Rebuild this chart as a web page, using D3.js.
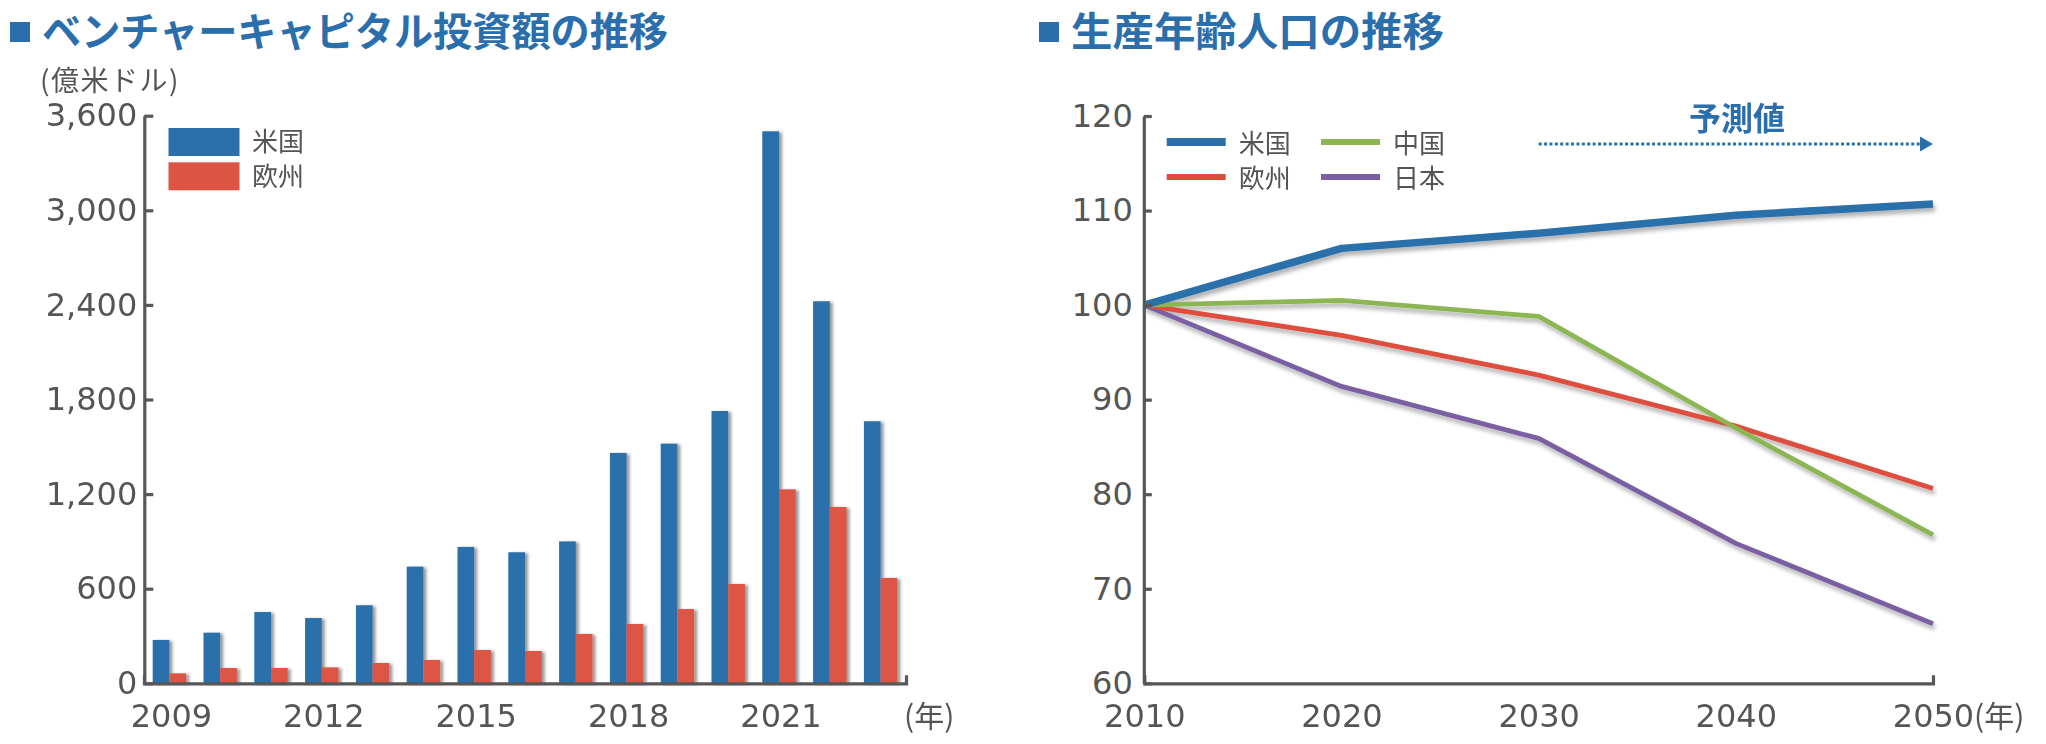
<!DOCTYPE html>
<html>
<head>
<meta charset="utf-8">
<script src="https://cdn.jsdelivr.net/npm/d3@7"></script>
<style>
  html, body { margin: 0; padding: 0; background: #fff; }
  svg { display: block; }
</style>
</head>
<body>
<svg id="chart" width="2046" height="744"></svg>
<script>
// ---------- Data: left chart (venture capital investment, 億米ドル) ----------
const vcYears = ["2009","2010","2011","2012","2013","2014","2015","2016","2017","2018","2019","2020","2021","2022","2023"];
const vcUS = [275, 321, 452, 414, 495, 740, 865, 831, 900, 1461, 1520, 1727, 3501, 2423, 1662];
const vcEU = [63, 97, 97, 101, 129, 148, 211, 205, 313, 376, 471, 630, 1230, 1118, 668];
const vcTicks = [0, 600, 1200, 1800, 2400, 3000, 3600];
const vcLabelYears = ["2009", "2012", "2015", "2018", "2021"];
const vcSeriesNames = ["米国", "欧州"];

// ---------- Data: right chart (working-age population index) ----------
const popYears = [2010, 2020, 2030, 2040, 2050];
const popUS = [100, 106.0, 107.6, 109.5, 110.7];
const popCN = [100, 100.5, 98.8, 87.0, 75.7];
const popEU = [100, 96.8, 92.6, 87.2, 80.6];
const popJP = [100, 91.4, 85.9, 74.8, 66.3];
const popTicks = [60, 70, 80, 90, 100, 110, 120];
const popSeriesNames = ["米国", "中国", "欧州", "日本"];

// ---------- Styles ----------
const BLUE = "#2b70ab", RED = "#dc5444", GREEN = "#8cb553", PURPLE = "#7a60a2", LRED = "#de4d3c";
const TITLE_BLUE = "#2b6eac";
const AXIS = "#575757", TEXT = "#555555";
const NUMFONT = "'DejaVu Sans', sans-serif";
const JPFONT = "'Noto Sans CJK JP', sans-serif";

const svg = d3.select("#chart");
const defs = svg.append("defs");
const fBar = defs.append("filter").attr("id", "barShadow").attr("x", "-20%").attr("y", "-5%").attr("width", "160%").attr("height", "110%");
fBar.append("feDropShadow").attr("dx", 3).attr("dy", 1).attr("stdDeviation", 1.6).attr("flood-color", "#000").attr("flood-opacity", 0.4);
const fLine = defs.append("filter").attr("id", "lineShadow").attr("x", "-5%").attr("y", "-10%").attr("width", "110%").attr("height", "130%");
fLine.append("feDropShadow").attr("dx", 2).attr("dy", 4).attr("stdDeviation", 2).attr("flood-color", "#000").attr("flood-opacity", 0.3);

// ---------- Titles ----------
function title(x, text, len) {
  svg.append("rect").attr("x", x).attr("y", 22).attr("width", 20).attr("height", 20).attr("fill", TITLE_BLUE);
  svg.append("text").attr("x", x + 32).attr("y", 46)
    .attr("font-family", JPFONT).attr("font-weight", 700).attr("font-size", 40)
    .attr("fill", TITLE_BLUE).attr("textLength", len).attr("lengthAdjust", "spacingAndGlyphs")
    .text(text);
}
title(10, "ベンチャーキャピタル投資額の推移", 626);
title(1039, "生産年齢人口の推移", 373);

// ================= LEFT CHART =================
const x0 = d3.scaleBand().domain(vcYears).range([144, 906]).paddingInner(0.342).paddingOuter(0.171);
const x1 = d3.scaleBand().domain(vcSeriesNames).range([0, x0.bandwidth()]);
const yL = d3.scaleLinear().domain([0, 3600]).range([683.3, 115.7]);
const colorL = d3.scaleOrdinal().domain(vcSeriesNames).range([BLUE, RED]);

const barData = vcYears.map((y, i) => ({ year: y, vals: [{ k: "米国", v: vcUS[i] }, { k: "欧州", v: vcEU[i] }] }));
const bars = svg.append("g").attr("filter", "url(#barShadow)");
bars.selectAll("g").data(barData).join("g")
  .attr("transform", d => `translate(${x0(d.year)},0)`)
  .selectAll("rect").data(d => d.vals).join("rect")
  .attr("x", d => x1(d.k)).attr("width", x1.bandwidth())
  .attr("y", d => yL(d.v)).attr("height", d => yL(0) - yL(d.v))
  .attr("fill", d => colorL(d.k));

// y axis
const yAxisL = svg.append("g").attr("transform", "translate(144.3,0)")
  .call(d3.axisLeft(yL).tickValues(vcTicks).tickFormat(d3.format(",")).tickSize(-9).tickSizeOuter(0).tickPadding(7));
// x axis
const xAxisL = svg.append("g").attr("transform", "translate(0,683.3)")
  .call(d3.axisBottom(x0).tickValues(vcLabelYears).tickSize(0).tickSizeOuter(-8).tickPadding(21));
xAxisL.selectAll(".tick").attr("transform", d => `translate(${x0(d) + x0.bandwidth() / 2 + 2},0)`);

// legend left
const legL = svg.append("g");
vcSeriesNames.forEach((n, i) => {
  legL.append("rect").attr("x", 168.5).attr("y", 128 + i * 34.3).attr("width", 71).attr("height", 28).attr("fill", colorL(n));
  legL.append("text").attr("x", 252).attr("y", 142 + i * 34.3).attr("dy", "0.36em")
    .attr("font-family", JPFONT).attr("font-size", 26).attr("fill", TEXT).text(n);
});
// unit labels
svg.append("text").attr("x", 40).attr("y", 81).attr("dy", "0.36em").attr("font-family", JPFONT)
  .attr("font-size", 28).attr("letter-spacing", 1.5).attr("fill", TEXT).text("(億米ドル)");
svg.append("text").attr("x", 904).attr("y", 716).attr("dy", "0.36em").attr("font-family", JPFONT)
  .attr("font-size", 30).attr("fill", TEXT).text("(年)");

// ================= RIGHT CHART =================
const xR = d3.scaleLinear().domain([2010, 2050]).range([1144.3, 1933]);
const yR = d3.scaleLinear().domain([60, 120]).range([683.3, 116]);

const popSeries = [
  { name: "米国", vals: popUS, color: BLUE, w: 7.5 },
  { name: "中国", vals: popCN, color: GREEN, w: 4.8 },
  { name: "欧州", vals: popEU, color: LRED, w: 4.8 },
  { name: "日本", vals: popJP, color: PURPLE, w: 4.8 }
];
const line = d3.line().x((d, i) => xR(popYears[i])).y(d => yR(d));
const linesG = svg.append("g").attr("filter", "url(#lineShadow)");
// draw order: US last on top
[popSeries[3], popSeries[2], popSeries[1], popSeries[0]].forEach(s => {
  linesG.append("path").attr("d", line(s.vals)).attr("fill", "none")
    .attr("stroke", s.color).attr("stroke-width", s.w).attr("stroke-linejoin", "round").attr("stroke-linecap", "butt");
});

const yAxisR = svg.append("g").attr("transform", "translate(1143.8,0)")
  .call(d3.axisLeft(yR).tickValues(popTicks).tickFormat(d3.format("d")).tickSize(-8).tickSizeOuter(0).tickPadding(11));
const xAxisR = svg.append("g").attr("transform", "translate(0,683.3)")
  .call(d3.axisBottom(xR).tickValues(popYears).tickFormat(d3.format("d")).tickSize(0).tickSizeOuter(-8).tickPadding(21));
svg.append("text").attr("x", xR(2050) + 41).attr("y", 716).attr("dy", "0.36em").attr("font-family", JPFONT)
  .attr("font-size", 30).attr("fill", TEXT).text("(年)");

// legend right
const legPos = [{ x: 1166.7, y: 142 }, { x: 1321, y: 142 }, { x: 1166.7, y: 177 }, { x: 1321, y: 177 }];
popSeries.forEach((s, i) => {
  const p = legPos[i];
  svg.append("line").attr("x1", p.x).attr("x2", p.x + 59).attr("y1", p.y).attr("y2", p.y)
    .attr("stroke", s.color).attr("stroke-width", i === 0 ? 8 : 6);
  svg.append("text").attr("x", p.x + 72).attr("y", p.y + 2).attr("dy", "0.36em")
    .attr("font-family", JPFONT).attr("font-size", 26).attr("fill", TEXT).text(s.name);
});

// forecast annotation
svg.append("text").attr("x", 1737).attr("y", 118).attr("dy", "0.36em").attr("text-anchor", "middle")
  .attr("font-family", JPFONT).attr("font-weight", 700).attr("font-size", 32).attr("fill", TITLE_BLUE).text("予測値");
svg.append("line").attr("x1", xR(2030)).attr("x2", 1921).attr("y1", 144).attr("y2", 144)
  .attr("stroke", TITLE_BLUE).attr("stroke-width", 3.2).attr("stroke-dasharray", "3,2.4");
svg.append("path").attr("d", `M1920,136.5 L1933,144 L1920,151.5 Z`).attr("fill", TITLE_BLUE);

// ---------- Axis styling ----------
[yAxisL, xAxisL, yAxisR, xAxisR].forEach(a => {
  a.select(".domain").attr("stroke", AXIS).attr("stroke-width", 3.2).attr("fill", "none");
  a.selectAll(".tick line").attr("stroke", AXIS).attr("stroke-width", 3.2);
  a.selectAll(".tick text").attr("fill", TEXT).attr("font-family", NUMFONT).attr("font-size", 32);
});
</script>
</body>
</html>
